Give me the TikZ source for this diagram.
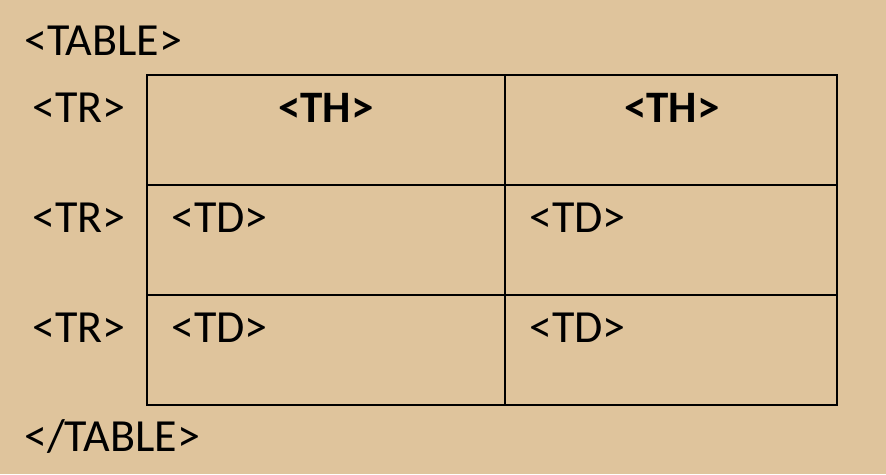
\documentclass[tikz,border=0pt]{standalone}
\usepackage{fontspec}
\setmainfont{Carlito}
\usepackage{tikz}
\definecolor{tan}{RGB}{223,196,156}
\tikzset{
	tag/.style={inner sep=0pt, font=\fontsize{46}{50}\selectfont},
	headtag/.style={tag, font=\fontsize{45}{50}\selectfont\bfseries},
	grid/.style={line width=2.4pt}
}
\begin{document}
\begin{tikzpicture}[x=1pt,y=-1pt]
		\fill[tan] (0,0) rectangle (886,474);
		\useasboundingbox (0,0) rectangle (886,474);
		
		\coordinate (nw) at (147,75);
		\coordinate (se) at (837,405);
		\draw[grid] (nw) rectangle (se);
		\draw[grid] (505,75) -- (505,405);
		\draw[grid] (147,185) -- (837,185);
		\draw[grid] (147,295) -- (837,295);
		
		\node[tag, anchor=west] (open) at (24,41) {<TABLE>};
		\node[tag, anchor=west] (close) at (24,437) {</TABLE>};
		
		\node[tag] (tr1) at (79,108) {<TR>};
		\node[tag] (tr2) at (79,218) {<TR>};
		\node[tag] (tr3) at (79,328) {<TR>};
		
		\node[headtag] (th1) at (326,108) {<TH>};
		\node[headtag] (th2) at (672,108) {<TH>};
		
		\node[tag, anchor=west] (td1) at (171,218) {<TD>};
		\node[tag, anchor=west] (td2) at (529,218) {<TD>};
		\node[tag, anchor=west] (td3) at (171,328) {<TD>};
		\node[tag, anchor=west] (td4) at (529,328) {<TD>};
	\end{tikzpicture}
\end{document}
